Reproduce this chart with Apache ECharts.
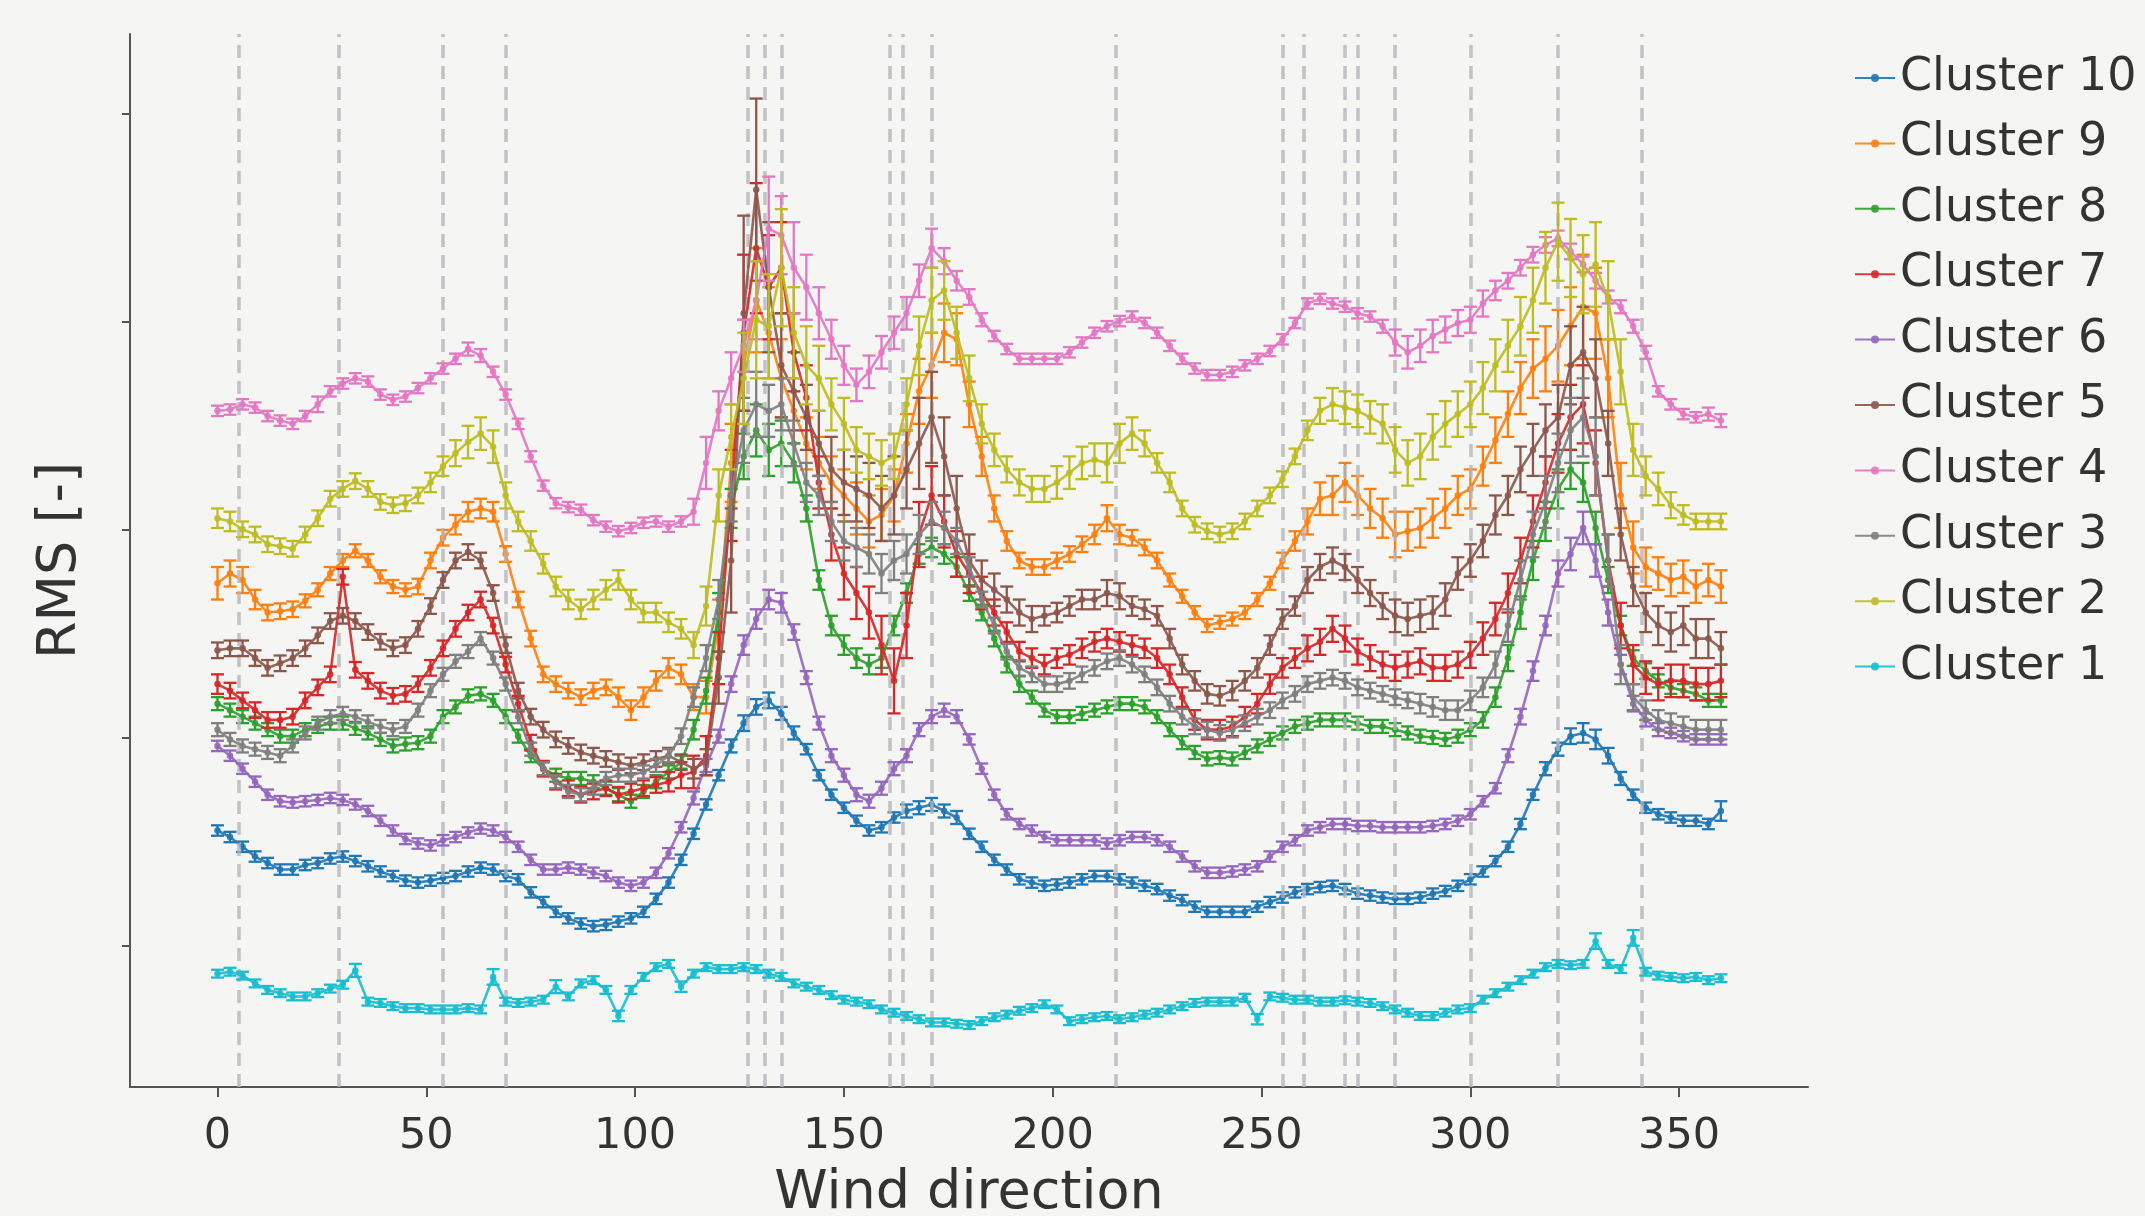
<!DOCTYPE html>
<html>
<head>
<meta charset="utf-8">
<script src="https://cdn.jsdelivr.net/npm/echarts@6/dist/echarts.min.js"></script>
<style>
html,body{margin:0;padding:0;background:#f5f5f3;}
#chart{width:2145px;height:1216px;}
</style>
</head>
<body>
<div id="chart"></div>
<script>
// Wind direction samples (degrees)
const directions = [
0,3,6,9,12,15,18,21,24,27,
30,33,36,39,42,45,48,51,54,57,
60,63,66,69,72,75,78,81,84,87,
90,93,96,99,102,105,108,111,114,117,
120,123,126,129,132,135,138,141,144,147,
150,153,156,159,162,165,168,171,174,177,
180,183,186,189,192,195,198,201,204,207,
210,213,216,219,222,225,228,231,234,237,
240,243,246,249,252,255,258,261,264,267,
270,273,276,279,282,285,288,291,294,297,
300,303,306,309,312,315,318,321,324,327,
330,333,336,339,342,345,348,351,354,357,
360];

// RMS values (y axis carries no labels; arbitrary units)
const cluster10 = [
0.385,0.375,0.360,0.345,0.335,0.325,0.325,0.332,0.335,0.342,
0.345,0.338,0.330,0.322,0.315,0.308,0.305,0.308,0.312,0.315,
0.322,0.328,0.325,0.315,0.310,0.290,0.275,0.260,0.250,0.242,
0.238,0.240,0.245,0.250,0.260,0.280,0.305,0.340,0.380,0.425,
0.470,0.515,0.550,0.575,0.585,0.565,0.535,0.510,0.470,0.440,
0.420,0.400,0.385,0.390,0.405,0.415,0.420,0.425,0.415,0.405,
0.380,0.360,0.340,0.325,0.310,0.305,0.300,0.302,0.305,0.310,
0.315,0.315,0.310,0.305,0.300,0.295,0.285,0.278,0.268,0.260,
0.260,0.260,0.260,0.268,0.275,0.282,0.290,0.295,0.298,0.300,
0.295,0.288,0.285,0.282,0.280,0.280,0.282,0.288,0.292,0.300,
0.310,0.322,0.338,0.360,0.395,0.440,0.480,0.510,0.530,0.535,
0.525,0.500,0.465,0.440,0.420,0.410,0.405,0.400,0.400,0.395,
0.415];
const cluster9 = [
0.765,0.780,0.770,0.740,0.720,0.722,0.725,0.738,0.755,0.780,
0.800,0.815,0.800,0.775,0.760,0.755,0.760,0.800,0.835,0.855,
0.875,0.880,0.875,0.810,0.740,0.680,0.625,0.610,0.600,0.590,
0.600,0.605,0.590,0.570,0.590,0.615,0.635,0.625,0.590,0.590,
0.700,0.950,1.100,1.200,1.150,1.080,1.030,0.980,0.950,0.920,
0.900,0.880,0.860,0.870,0.900,0.980,1.060,1.100,1.150,1.140,
1.040,0.960,0.880,0.830,0.800,0.790,0.790,0.800,0.810,0.825,
0.840,0.865,0.840,0.835,0.820,0.800,0.770,0.745,0.720,0.700,
0.705,0.710,0.720,0.740,0.765,0.800,0.830,0.860,0.895,0.900,
0.920,0.900,0.880,0.865,0.840,0.845,0.850,0.865,0.880,0.900,
0.910,0.945,0.985,1.025,1.065,1.095,1.110,1.130,1.160,1.190,
1.180,1.080,0.900,0.820,0.790,0.780,0.770,0.775,0.760,0.770,
0.760];
const cluster8 = [
0.580,0.570,0.560,0.550,0.540,0.530,0.530,0.540,0.545,0.550,
0.550,0.542,0.535,0.525,0.515,0.518,0.520,0.530,0.560,0.575,
0.592,0.595,0.585,0.560,0.530,0.500,0.480,0.470,0.465,0.465,
0.460,0.450,0.440,0.430,0.445,0.460,0.475,0.490,0.540,0.600,
0.720,0.880,0.960,1.000,0.970,0.980,0.950,0.880,0.770,0.700,
0.670,0.650,0.640,0.650,0.700,0.750,0.810,0.820,0.810,0.790,
0.750,0.720,0.680,0.640,0.610,0.590,0.570,0.560,0.560,0.565,
0.570,0.575,0.580,0.580,0.575,0.560,0.540,0.520,0.505,0.495,
0.497,0.495,0.505,0.515,0.525,0.535,0.545,0.550,0.555,0.555,
0.555,0.550,0.545,0.545,0.540,0.535,0.530,0.528,0.525,0.530,
0.540,0.555,0.590,0.650,0.720,0.800,0.860,0.910,0.940,0.920,
0.850,0.770,0.700,0.650,0.630,0.615,0.605,0.600,0.595,0.585,
0.585];
const cluster7 = [
0.610,0.600,0.585,0.570,0.555,0.555,0.560,0.585,0.605,0.625,
0.775,0.632,0.615,0.600,0.592,0.595,0.610,0.635,0.665,0.695,
0.720,0.740,0.700,0.640,0.580,0.520,0.480,0.460,0.450,0.440,
0.445,0.450,0.440,0.445,0.450,0.455,0.460,0.470,0.475,0.500,
0.650,0.900,1.150,1.280,1.220,1.250,1.120,1.050,0.920,0.840,
0.780,0.750,0.720,0.670,0.615,0.700,0.840,0.900,0.860,0.810,
0.780,0.750,0.720,0.690,0.660,0.650,0.640,0.650,0.655,0.665,
0.675,0.680,0.675,0.670,0.665,0.650,0.625,0.590,0.555,0.540,
0.540,0.545,0.560,0.580,0.610,0.635,0.650,0.665,0.675,0.695,
0.680,0.660,0.650,0.640,0.635,0.640,0.645,0.635,0.635,0.640,
0.655,0.680,0.710,0.750,0.800,0.860,0.920,0.980,1.020,1.040,
0.950,0.800,0.700,0.640,0.620,0.610,0.615,0.615,0.610,0.610,
0.615];
const cluster6 = [
0.515,0.500,0.480,0.460,0.440,0.430,0.428,0.430,0.432,0.435,
0.432,0.425,0.415,0.400,0.385,0.372,0.365,0.362,0.370,0.375,
0.382,0.388,0.385,0.375,0.360,0.340,0.325,0.325,0.328,0.325,
0.320,0.315,0.305,0.300,0.305,0.320,0.350,0.390,0.435,0.485,
0.530,0.610,0.670,0.710,0.740,0.735,0.690,0.620,0.550,0.500,
0.470,0.440,0.430,0.450,0.480,0.500,0.540,0.560,0.570,0.560,
0.525,0.480,0.440,0.410,0.395,0.385,0.375,0.370,0.370,0.370,
0.370,0.365,0.370,0.375,0.375,0.370,0.360,0.345,0.330,0.320,
0.320,0.322,0.325,0.330,0.345,0.360,0.370,0.385,0.390,0.395,
0.395,0.392,0.392,0.390,0.390,0.390,0.390,0.392,0.395,0.400,
0.410,0.430,0.450,0.500,0.560,0.630,0.700,0.780,0.810,0.850,
0.800,0.720,0.640,0.580,0.555,0.540,0.535,0.530,0.525,0.525,
0.525];
const cluster5 = [
0.662,0.665,0.665,0.650,0.635,0.642,0.650,0.665,0.685,0.707,
0.715,0.707,0.690,0.675,0.665,0.670,0.695,0.730,0.770,0.800,
0.813,0.800,0.750,0.670,0.600,0.560,0.540,0.525,0.515,0.505,
0.500,0.495,0.490,0.485,0.490,0.495,0.500,0.490,0.480,0.490,
0.620,0.800,1.180,1.370,1.220,1.100,1.060,1.020,0.980,0.940,
0.920,0.910,0.900,0.880,0.900,0.940,0.980,1.020,0.960,0.880,
0.800,0.770,0.755,0.740,0.720,0.710,0.715,0.720,0.730,0.740,
0.740,0.750,0.745,0.730,0.725,0.715,0.680,0.640,0.615,0.595,
0.592,0.600,0.615,0.635,0.670,0.710,0.730,0.770,0.790,0.800,
0.790,0.770,0.750,0.730,0.715,0.710,0.715,0.720,0.740,0.780,
0.800,0.830,0.870,0.900,0.940,0.970,1.000,1.020,1.100,1.120,
1.080,0.980,0.840,0.760,0.720,0.700,0.690,0.700,0.680,0.680,
0.665];
const cluster4 = [
1.030,1.032,1.040,1.035,1.022,1.015,1.010,1.022,1.040,1.060,
1.072,1.080,1.075,1.055,1.047,1.052,1.065,1.080,1.095,1.110,
1.125,1.115,1.090,1.055,1.010,0.960,0.915,0.888,0.882,0.878,
0.862,0.852,0.845,0.850,0.858,0.860,0.852,0.860,0.875,0.950,
1.030,1.080,1.130,1.200,1.310,1.300,1.250,1.220,1.180,1.140,
1.100,1.070,1.090,1.120,1.150,1.180,1.230,1.280,1.260,1.230,
1.205,1.170,1.145,1.125,1.110,1.110,1.110,1.110,1.120,1.135,
1.150,1.160,1.168,1.175,1.165,1.150,1.130,1.110,1.095,1.085,
1.085,1.090,1.100,1.110,1.122,1.140,1.165,1.195,1.202,1.195,
1.190,1.180,1.175,1.160,1.135,1.120,1.130,1.145,1.155,1.165,
1.170,1.195,1.215,1.230,1.250,1.270,1.285,1.295,1.275,1.255,
1.230,1.205,1.190,1.160,1.120,1.060,1.040,1.025,1.020,1.025,
1.015];
const cluster3 = [
0.540,0.525,0.515,0.510,0.505,0.500,0.515,0.535,0.550,0.560,
0.565,0.560,0.552,0.545,0.540,0.545,0.570,0.600,0.625,0.645,
0.660,0.680,0.650,0.610,0.560,0.510,0.480,0.460,0.445,0.440,
0.450,0.465,0.470,0.470,0.475,0.485,0.500,0.530,0.590,0.650,
0.740,0.900,1.000,1.040,1.030,1.040,0.980,0.920,0.900,0.860,
0.830,0.820,0.810,0.780,0.800,0.810,0.840,0.860,0.850,0.830,
0.790,0.740,0.700,0.660,0.635,0.625,0.610,0.610,0.615,0.625,
0.635,0.645,0.650,0.640,0.625,0.605,0.580,0.560,0.545,0.540,
0.535,0.540,0.550,0.560,0.570,0.585,0.595,0.610,0.615,0.620,
0.615,0.605,0.600,0.595,0.590,0.585,0.580,0.575,0.570,0.570,
0.585,0.605,0.640,0.700,0.770,0.840,0.890,0.950,1.000,1.020,
0.960,0.800,0.640,0.590,0.570,0.555,0.550,0.545,0.540,0.540,
0.540];
const cluster2 = [
0.865,0.860,0.848,0.840,0.825,0.822,0.818,0.840,0.865,0.895,
0.910,0.922,0.910,0.890,0.885,0.888,0.900,0.920,0.945,0.965,
0.982,0.995,0.975,0.900,0.860,0.830,0.795,0.760,0.740,0.725,
0.740,0.755,0.770,0.740,0.720,0.720,0.705,0.695,0.670,0.730,
0.900,0.990,1.080,1.170,1.160,1.250,1.150,1.100,1.080,1.040,
1.010,0.970,0.960,0.950,0.960,1.040,1.130,1.200,1.215,1.150,
1.080,1.010,0.970,0.940,0.920,0.910,0.910,0.920,0.935,0.950,
0.955,0.950,0.980,0.995,0.980,0.950,0.920,0.880,0.855,0.845,
0.840,0.845,0.860,0.880,0.900,0.925,0.960,1.000,1.030,1.040,
1.035,1.030,1.020,1.010,0.970,0.950,0.960,0.990,1.010,1.025,
1.040,1.065,1.100,1.130,1.160,1.200,1.250,1.290,1.265,1.240,
1.255,1.200,1.090,0.970,0.930,0.910,0.885,0.870,0.860,0.860,
0.860];
const cluster1 = [
0.165,0.168,0.162,0.150,0.140,0.135,0.130,0.130,0.135,0.142,
0.148,0.170,0.122,0.120,0.115,0.112,0.112,0.110,0.110,0.110,
0.112,0.110,0.160,0.122,0.120,0.122,0.125,0.145,0.130,0.150,
0.155,0.140,0.100,0.140,0.160,0.175,0.180,0.145,0.165,0.175,
0.172,0.172,0.175,0.172,0.165,0.160,0.150,0.145,0.140,0.132,
0.125,0.122,0.118,0.110,0.105,0.100,0.095,0.090,0.090,0.088,
0.086,0.092,0.098,0.102,0.108,0.112,0.118,0.110,0.092,0.095,
0.098,0.100,0.095,0.098,0.102,0.105,0.110,0.115,0.120,0.122,
0.122,0.122,0.128,0.095,0.130,0.128,0.125,0.125,0.122,0.122,
0.124,0.122,0.120,0.115,0.110,0.105,0.100,0.100,0.105,0.110,
0.112,0.125,0.135,0.145,0.155,0.165,0.175,0.180,0.178,0.180,
0.215,0.180,0.172,0.220,0.168,0.162,0.160,0.158,0.160,0.155,
0.158];

// Error bar half-widths (thousandths of the RMS unit)
const err10 = [
8,8,8,8,8,8,8,8,8,8, 8,8,8,8,8,8,8,8,8,8, 8,8,8,8,8,8,8,8,8,8, 8,8,8,8,8,8,8,8,8,8,
8,10,12,12,12,10,10,8,8,8, 8,8,8,8,8,10,10,10,10,10, 8,8,8,8,8,8,8,8,8,8, 8,8,8,8,8,8,8,8,8,8,
8,8,8,8,8,8,8,8,8,8, 8,8,8,8,8,8,8,8,8,8, 8,8,8,8,8,8,10,10,12,15, 15,12,10,8,8,8,8,8,8,8, 15];
const err9 = [
25,20,20,15,12,12,12,10,10,10, 10,10,10,10,10,10,12,12,12,15, 15,15,15,12,12,12,12,12,12,12, 12,12,15,15,15,15,15,15,20,25,
40,60,70,80,70,60,50,40,40,40, 40,40,40,40,40,45,50,50,45,40, 35,30,20,15,12,12,12,12,12,12, 15,20,15,12,12,12,10,10,10,10,
10,10,10,10,10,12,15,20,25,30, 30,30,30,30,35,30,30,30,30,30, 30,30,35,35,40,45,50,55,60,80, 70,60,50,40,30,25,25,25,25,25, 25];
const err8 = [
10,10,10,10,10,10,10,10,10,10, 10,10,10,10,10,10,10,10,10,10, 10,10,10,10,10,10,10,10,10,10, 10,10,10,10,10,10,10,10,15,20,
30,30,35,40,40,35,30,20,15,15, 15,15,15,15,15,15,15,15,15,15, 12,12,12,12,12,10,10,10,10,10, 10,10,10,10,10,10,10,10,10,10,
10,10,10,10,10,10,10,10,10,10, 10,10,10,10,10,10,10,10,10,10, 10,12,15,20,25,30,30,30,30,30, 25,20,15,12,12,10,10,10,10,10, 10];
const err7 = [
15,12,12,12,12,12,12,12,12,12, 12,12,12,12,12,12,12,12,12,12, 12,12,12,12,12,12,12,12,12,12, 12,12,12,12,12,12,15,20,25,30,
40,70,120,100,80,70,60,50,40,40, 40,40,40,45,50,50,50,45,40,35, 30,25,20,15,15,15,15,15,15,15, 15,15,15,15,15,15,15,15,15,15,
15,15,15,15,15,15,15,20,20,20, 20,20,20,20,20,20,20,20,20,20, 20,25,25,30,35,40,40,45,50,60, 50,40,35,30,25,25,25,25,25,25, 25];
const err6 = [
8,8,8,8,8,8,8,8,8,8, 8,8,8,8,8,8,8,8,8,8, 8,8,8,8,8,8,8,8,8,8, 8,8,8,8,8,8,8,8,10,10,
10,12,15,15,15,15,12,10,10,10, 10,10,10,10,10,10,10,10,10,10, 8,8,8,8,8,8,8,8,8,8, 8,8,8,8,8,8,8,8,8,8,
8,8,8,8,8,8,8,8,8,8, 8,8,8,8,8,8,8,8,8,8, 8,8,8,10,12,15,15,20,25,25, 25,20,15,12,10,10,8,8,8,8, 8];
const err5 = [
12,12,12,12,12,12,12,12,12,12, 12,12,12,12,12,12,12,12,12,12, 12,12,12,12,12,12,12,12,12,12, 12,12,12,12,12,12,12,12,15,20,
40,80,150,140,100,80,60,50,50,50, 50,50,50,50,60,60,70,70,60,50, 40,30,25,20,20,20,15,15,15,15, 15,20,20,15,15,15,15,15,15,15,
15,15,15,15,15,15,15,20,20,20, 20,20,20,20,25,25,25,25,25,25, 25,25,30,30,35,40,40,50,60,70, 60,50,40,30,30,30,30,30,30,30, 25];
const err4 = [
8,8,8,8,8,8,8,8,12,8, 8,8,8,8,8,8,8,8,8,8, 10,10,8,8,8,8,8,8,8,8, 8,8,8,8,8,8,8,8,20,40,
30,40,40,60,80,60,70,50,40,30, 30,25,25,25,25,25,25,30,20,15, 12,10,8,8,8,8,8,8,8,8, 8,8,8,8,8,8,8,8,8,8,
8,8,8,8,8,8,8,8,8,8, 8,8,8,10,20,25,25,25,20,20, 20,20,15,12,12,12,12,12,12,12, 12,10,10,10,10,8,8,8,8,10, 10];
const err3 = [
10,10,10,10,10,10,10,10,10,10, 10,10,10,10,10,10,10,10,10,10, 10,10,10,10,10,10,10,10,10,10, 10,10,10,10,10,10,10,12,15,20,
30,40,50,50,40,40,35,30,30,30, 30,30,30,30,30,30,30,30,25,20, 15,12,12,12,12,12,12,12,12,12, 12,12,12,12,12,12,12,12,12,12,
12,12,12,12,12,12,12,12,12,12, 12,12,12,12,12,12,15,15,15,15, 15,15,20,25,30,35,40,45,50,60, 60,40,30,20,15,15,15,15,15,15, 15];
const err2 = [
15,15,12,12,12,12,12,12,12,12, 12,12,12,12,12,12,12,15,15,20, 25,25,25,20,15,15,15,15,15,15, 15,15,15,15,15,15,15,15,20,30,
40,50,70,90,80,90,70,60,50,40, 40,35,35,35,35,40,45,50,45,40, 35,30,25,20,20,20,20,25,25,25, 25,30,30,25,20,15,15,12,12,12,
12,12,12,12,12,12,12,15,20,25, 25,25,25,30,35,35,35,35,35,35, 35,40,40,40,45,50,55,60,60,60, 65,60,50,40,30,25,20,15,12,12, 12];
const err1 = [
6,6,6,6,6,6,6,6,6,6, 6,10,6,6,6,6,6,6,6,6, 6,6,12,6,6,6,6,10,6,6, 6,6,8,6,6,6,6,8,6,6,
6,6,6,6,6,6,6,6,6,6, 6,6,6,6,6,6,6,6,6,6, 6,6,6,6,6,6,6,6,6,6, 6,6,6,6,6,6,6,6,6,6,
6,6,6,8,6,6,6,6,6,6, 6,6,6,6,6,6,6,6,6,6, 6,6,6,6,6,6,6,6,6,6, 12,6,6,12,6,6,6,6,6,6, 6];

const seriesNames = ['Cluster 10','Cluster 9','Cluster 8','Cluster 7','Cluster 6','Cluster 5','Cluster 4','Cluster 3','Cluster 2','Cluster 1'];
const seriesValues = [cluster10,cluster9,cluster8,cluster7,cluster6,cluster5,cluster4,cluster3,cluster2,cluster1];
const seriesErrors = [err10,err9,err8,err7,err6,err5,err4,err3,err2,err1];
const colors = ['#1f77b4','#ff7f0e','#2ca02c','#d62728','#9467bd','#8c564b','#e377c2','#7f7f7f','#bcbd22','#17becf'];

// Vertical dashed reference directions
const sectorLines = [5,29,54,69,127,131,135,161,164,171,215,255,260,270,273,282,300,321,341];

const xTickValues = [0,50,100,150,200,250,300,350];
const yTickValues = [0.2078,0.5275,0.8472,1.1669,1.4866];

seriesValues.forEach((a,i)=>{ if(a.length!==directions.length) throw new Error(seriesNames[i]+' values '+a.length); });
seriesErrors.forEach((a,i)=>{ if(a.length!==directions.length) throw new Error(seriesNames[i]+' errors '+a.length); });

const FONT = 'DejaVu Sans';
const chart = echarts.init(document.getElementById('chart'), null, {renderer:'canvas'});

function errRender(params, api){
  const x = api.value(0), y = api.value(1), e = api.value(2);
  const top = api.coord([x, y + e]);
  const bot = api.coord([x, y - e]);
  const hw = 6.5;
  const st = {stroke: api.visual('color'), lineWidth: 2.3};
  return {type:'group', children:[
    {type:'line', shape:{x1:top[0],y1:top[1],x2:bot[0],y2:bot[1]}, style:st},
    {type:'line', shape:{x1:top[0]-hw,y1:top[1],x2:top[0]+hw,y2:top[1]}, style:st},
    {type:'line', shape:{x1:bot[0]-hw,y1:bot[1],x2:bot[0]+hw,y2:bot[1]}, style:st}
  ]};
}

const series = [];
seriesNames.forEach((name,i)=>{
  const vals = seriesValues[i], errs = seriesErrors[i];
  series.push({
    name: 'err ' + name, type:'custom', renderItem: errRender, z: 2 + i,
    itemStyle:{color: colors[i], opacity:0.9},
    data: directions.map((d,k)=>[d, vals[k], errs[k]/1000]),
    silent:true
  });
  series.push({
    name: name, type:'line', z: 2 + i,
    data: directions.map((d,k)=>[d, vals[k]]),
    symbol:'circle', symbolSize:6.5, showSymbol:true,
    lineStyle:{width:2.6, color: colors[i], opacity:0.9},
    itemStyle:{color: colors[i], opacity:0.9},
    silent:true
  });
});
series.push({
  name:'sectors', type:'line', data:[], z:30, silent:true,
  markLine:{
    silent:true, symbol:['none','none'], animation:false,
    label:{show:false},
    lineStyle:{type:[13,8], color:'rgba(180,180,186,0.8)', width:3.5},
    data: sectorLines.map(v=>({xAxis:v}))
  }
});

chart.setOption({
  backgroundColor:'#f5f5f3',
  animation:false,
  textStyle:{fontFamily:FONT},
  grid:{left:130, right:337, top:34, bottom:129, containLabel:false, outerBoundsMode:'none'},
  legend:{
    orient:'vertical', left:1849, top:50,
    data: seriesNames,
    itemWidth:40, itemHeight:10, itemGap:19.4,
    textStyle:{fontSize:46, color:'#333', fontFamily:FONT, lineHeight:46}
  },
  xAxis:{
    type:'value', min:-20.95, max:380.86,
    axisLine:{onZero:false, lineStyle:{color:'#555', width:2}},
    axisTick:{show:true, customValues:xTickValues, length:10, lineStyle:{color:'#555', width:2}},
    axisLabel:{customValues:xTickValues, fontSize:43, color:'#333', margin:28, fontFamily:FONT},
    splitLine:{show:false},
    name:'Wind direction', nameLocation:'middle', nameGap:80,
    nameTextStyle:{fontSize:54, color:'#333', fontFamily:FONT}
  },
  yAxis:{
    type:'value', min:-0.0092, max:1.6092,
    axisLine:{show:true, onZero:false, lineStyle:{color:'#555', width:2}},
    axisTick:{show:true, customValues:yTickValues, length:8, lineStyle:{color:'#555', width:2}},
    axisLabel:{show:false},
    splitLine:{show:false},
    name:'RMS [-]', nameLocation:'middle', nameGap:42,
    nameTextStyle:{fontSize:54, color:'#333', fontFamily:FONT}
  },
  series: series
});
</script>
</body>
</html>
